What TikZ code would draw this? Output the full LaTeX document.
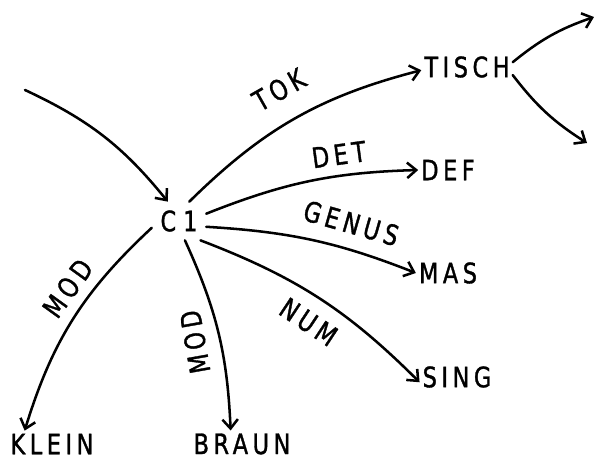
\documentclass[tikz,border=0pt]{standalone}
\usepackage{fontspec}
\setmainfont{DejaVu Sans}[FakeStretch=0.8,LetterSpace=16,FakeBold=1.2]
\usetikzlibrary{arrows.meta}

\begin{document}
\begin{tikzpicture}[>={Straight Barb[length=6.5pt,width=11pt]},line cap=round,
    every node/.style={font=\fontsize{20}{22}\selectfont},
    concept/.style={inner sep=2pt},
    rel/.style={->,line width=1.8pt},
    lbl/.style={sloped,above=6pt,inner sep=1pt}]
    \useasboundingbox (0,0) rectangle (14.85,11.475);

    % concepts
    \node[concept,inner sep=6pt] (c1) at (4.475,5.95) {C\kern5pt 1};
    \node[concept] (tisch) at (11.675,9.8) {TISCH};
    \node[concept] (def) at (11.2,7.225) {DEF};
    \node[concept] (mas) at (11.2,4.65) {MAS};
    \node[concept] (sing) at (11.425,2.05) {SING};
    \node[concept] (klein) at (1.3,0.375) {KLEIN};
    \node[concept] (braun) at (6.05,0.375) {BRAUN};

    % loose ends
    \coordinate (from) at (0.625,9.225);
    \coordinate (up) at (14.85,11.05);
    \coordinate (down) at (14.675,7.9);

    % edge into c1
    \draw[rel] (from) to[bend left=13] (c1.120);

    % relations of c1
    \draw[rel] (c1.62) to[bend left=15] node[lbl,pos=0.5,above=8pt] (tok) {TOK} (tisch.184);
    \draw[rel] (c1.15) to[bend left=10] node[lbl,pos=0.66] (det) {DET} (def.west);
    \draw[rel] (c1.-12) to[bend left=9] node[lbl,pos=0.66,above=3pt] (genus) {GENUS} (mas.west);
    \draw[rel] (c1.-42) to[bend left=12] node[lbl,pos=0.52,below=15pt] (num) {NUM} (sing.188);
    \draw[rel] (c1.194) to[bend right=15] node[lbl,pos=0.4] (mod1) {MOD} (klein.154);
    \draw[rel] (c1.-73) to[bend left=11] (braun.130);
    \node[rotate=100] (mod2) at (4.875,2.925) {MOD};

    % tisch goes on
    \draw[rel] (tisch.6) to[bend left=10] (up);
    \draw[rel] (tisch.-10) to[bend right=10] (down);
\end{tikzpicture}
\end{document}
